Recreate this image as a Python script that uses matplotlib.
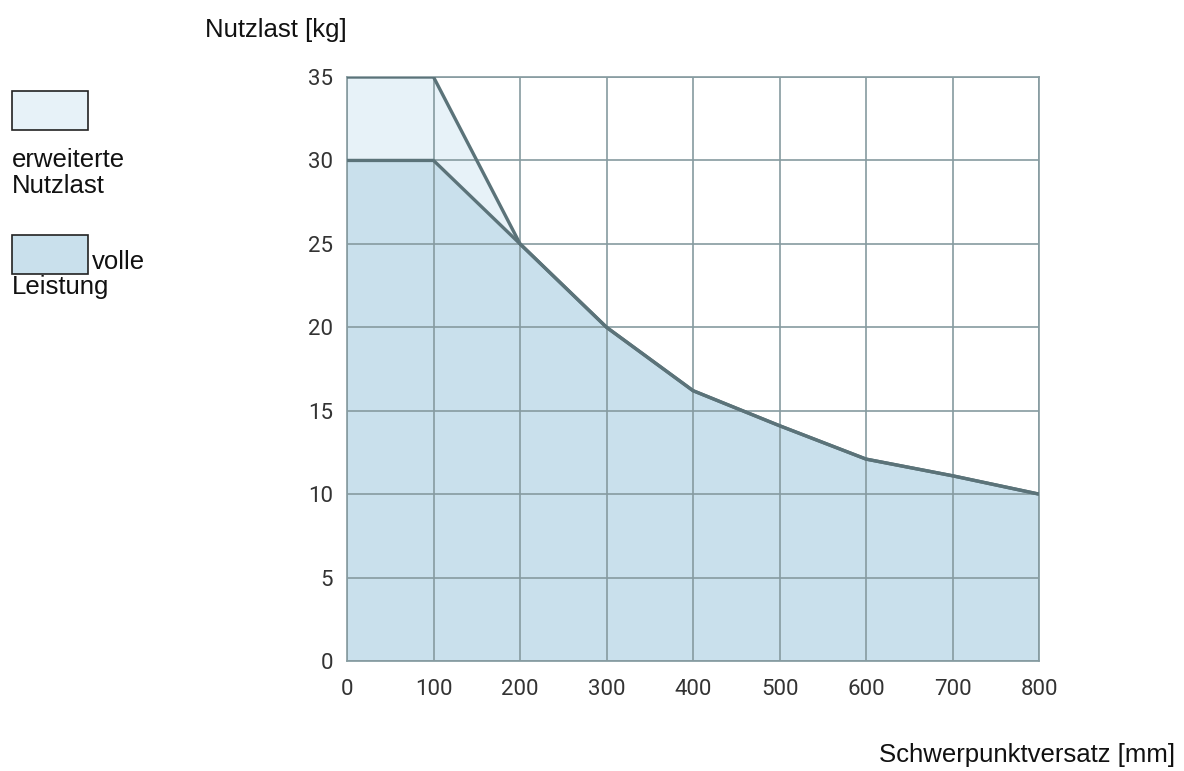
import numpy as np
import matplotlib.pyplot as plt
from matplotlib.patches import Rectangle

# Schwerpunktversatz [mm] and Nutzlast [kg]
versatz = [0, 100, 200, 300, 400, 500, 600, 700, 800]
volle_leistung = [30, 30, 25, 20, 16.2, 14.1, 12.1, 11.1, 10]
erweitert = [35, 35, 25, 20, 16.2, 14.1, 12.1, 11.1, 10]

x_ticks = [0, 100, 200, 300, 400, 500, 600, 700, 800]
y_ticks = [0, 5, 10, 15, 20, 25, 30, 35]

fill_full = '#c9e0ec'
fill_ext = '#e7f2f8'
line_col = '#5b7379'
grid_col = '#869ba0'
text_font = 'Liberation Sans'
tick_font = 'Roboto'

fig = plt.figure(figsize=(11.84, 7.71), dpi=100)
ax = fig.add_axes([0.2931, 0.1427, 0.5845, 0.7574])

ax.fill_between(versatz, 0, erweitert, color=fill_ext, lw=0, zorder=1)
ax.fill_between(versatz, 0, volle_leistung, color=fill_full, lw=0, zorder=1)
ax.grid(True, color=grid_col, lw=1.2, zorder=2)
ax.set_axisbelow(False)
ax.plot(versatz, erweitert, color=line_col, lw=2.4, zorder=3, solid_capstyle='butt')
ax.plot(versatz, volle_leistung, color=line_col, lw=2.4, zorder=3, solid_capstyle='butt')

ax.set_xlim(0, 800)
ax.set_ylim(0, 35)
ax.set_xticks(x_ticks)
ax.set_yticks(y_ticks)
for s in ax.spines.values():
    s.set_color(grid_col)
    s.set_linewidth(1.2)
ax.tick_params(length=0, colors='#333333')
ax.tick_params(axis='x', pad=13)
ax.tick_params(axis='y', pad=10)
for lab in ax.get_xticklabels() + ax.get_yticklabels():
    lab.set_fontfamily(tick_font)
    lab.set_fontsize(16)

fig.text(205 / 1184, 1 - 30 / 771, 'Nutzlast [kg]', fontsize=18.5, family=text_font,
         ha='left', va='center', color='#111111')
fig.text(1175 / 1184, 1 - 755 / 771, 'Schwerpunktversatz [mm]', fontsize=18.5,
         family=text_font, ha='right', va='center', color='#111111')

# legend
fig.patches.append(Rectangle((12 / 1184, 1 - 130 / 771), 76 / 1184, 39 / 771,
                             transform=fig.transFigure, facecolor=fill_ext,
                             edgecolor='#222222', lw=1.2))
fig.text(12 / 1184, 1 - 160 / 771, 'erweiterte', fontsize=18.5, family=text_font,
         ha='left', va='center', color='#111111')
fig.text(12 / 1184, 1 - 186 / 771, 'Nutzlast', fontsize=18.5, family=text_font,
         ha='left', va='center', color='#111111')
fig.patches.append(Rectangle((12 / 1184, 1 - 274 / 771), 76 / 1184, 39 / 771,
                             transform=fig.transFigure, facecolor=fill_full,
                             edgecolor='#222222', lw=1.2))
fig.text(92 / 1184, 1 - 262 / 771, 'volle', fontsize=18.5, family=text_font,
         ha='left', va='center', color='#111111')
fig.text(12 / 1184, 1 - 287 / 771, 'Leistung', fontsize=18.5, family=text_font,
         ha='left', va='center', color='#111111')

fig.savefig('out.png', dpi=100)
